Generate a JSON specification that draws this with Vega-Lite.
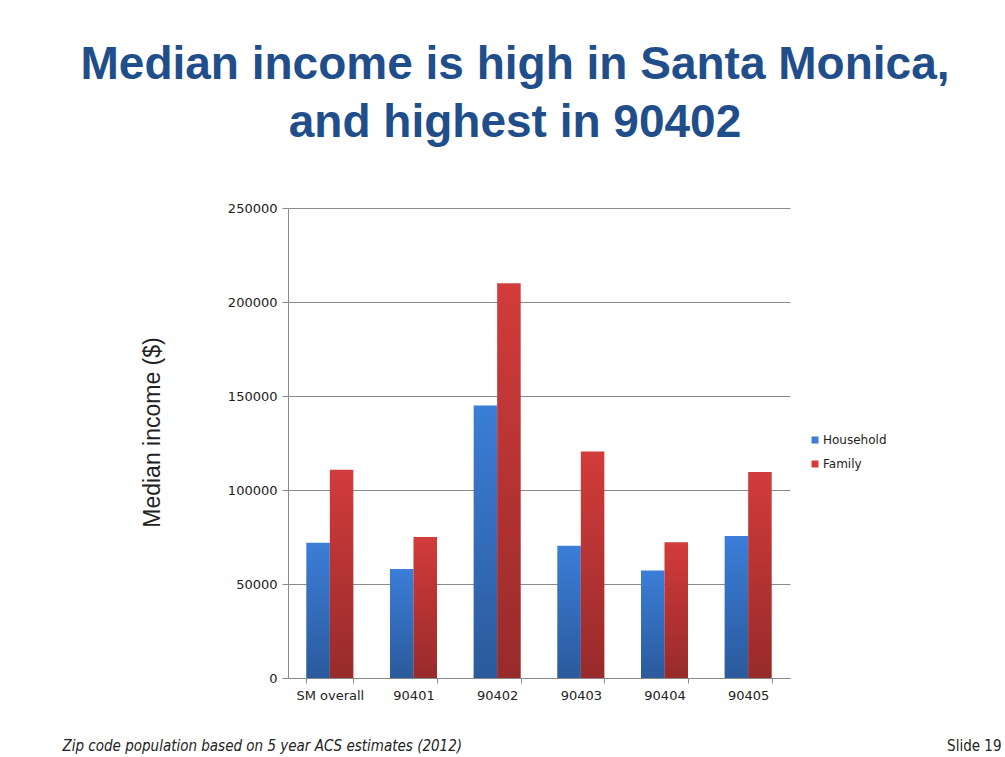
{
  "$schema": "https://vega.github.io/schema/vega-lite/v6.json",
  "width": 502,
  "height": 470,
  "autosize": {"type": "none"},
  "padding": {"left": 288, "top": 208, "right": 215, "bottom": 79},
  "background": "white",
  "title": {
    "text": ["Median income is high in Santa Monica,", "and highest in 90402"],
    "font": "Liberation Sans",
    "fontSize": 46,
    "fontWeight": "bold",
    "color": "#1f4e8a",
    "lineHeight": 58,
    "anchor": "middle",
    "frame": "group",
    "dx": -24,
    "offset": 55
  },
  "data": {
    "values": [
      {"zip": "SM overall", "series": "Household", "value": 72000},
      {"zip": "SM overall", "series": "Family", "value": 110800},
      {"zip": "90401", "series": "Household", "value": 58000},
      {"zip": "90401", "series": "Family", "value": 75000},
      {"zip": "90402", "series": "Household", "value": 145000},
      {"zip": "90402", "series": "Family", "value": 210000},
      {"zip": "90403", "series": "Household", "value": 70400},
      {"zip": "90403", "series": "Family", "value": 120500},
      {"zip": "90404", "series": "Household", "value": 57200},
      {"zip": "90404", "series": "Family", "value": 72200},
      {"zip": "90405", "series": "Household", "value": 75500},
      {"zip": "90405", "series": "Family", "value": 109600}
    ]
  },
  "encoding": {
    "x": {
      "field": "zip",
      "type": "nominal",
      "sort": null,
      "scale": {"paddingInner": 0.438, "paddingOuter": 0.219},
      "axis": {
        "title": "Zip code population  based on 5 year ACS estimates (2012)",
        "titleX": -226,
        "titleY": 72,
        "titleAlign": "left",
        "titleBaseline": "alphabetic",
        "titleFont": "DejaVu Sans Condensed, Liberation Sans",
        "titleFontStyle": "italic",
        "titleFontWeight": "normal",
        "titleFontSize": 15,
        "titleColor": "#222222",
        "labelAngle": 0,
        "labelFont": "DejaVu Sans",
        "labelFontSize": 13,
        "labelColor": "#222222",
        "labelPadding": 6,
        "tickBand": "extent",
        "tickSize": 5,
        "tickColor": "#8a8a8a",
        "domainColor": "#8a8a8a",
        "grid": false
      }
    },
    "xOffset": {
      "field": "series",
      "type": "nominal",
      "sort": ["Household", "Family"],
      "scale": {"domain": ["Household", "Family"], "paddingInner": 0, "paddingOuter": 0}
    }
  },
  "layer": [
    {
      "mark": {"type": "bar"},
      "encoding": {
        "y": {
          "field": "value",
          "type": "quantitative",
          "scale": {"domain": [0, 250000], "nice": false},
          "axis": {
            "title": "Median income ($)",
            "values": [0, 50000, 100000, 150000, 200000, 250000],
            "format": "d",
            "labelFont": "DejaVu Sans",
            "labelFontSize": 13,
            "labelColor": "#222222",
            "labelPadding": 5,
            "tickSize": 6,
            "tickColor": "#8a8a8a",
            "domainColor": "#8a8a8a",
            "grid": true,
            "gridColor": "#8a8a8a",
            "titleFont": "Liberation Sans",
            "titleFontSize": 23,
            "titleFontWeight": "normal",
            "titleColor": "#222222",
            "titleX": -136,
            "titleY": 224,
            "titleAngle": -90,
            "titleAlign": "center",
            "titleBaseline": "middle"
          }
        },
        "color": {
          "field": "series",
          "type": "nominal",
          "scale": {"domain": ["Household", "Family"], "range": ["#3b7dd8", "#d23b3b"]},
          "legend": {
            "title": null,
            "orient": "none",
            "legendX": 521,
            "legendY": 226,
            "padding": 0,
            "symbolType": "square",
            "symbolSize": 49,
            "symbolStrokeWidth": 0,
            "labelFont": "DejaVu Sans",
            "labelFontSize": 12,
            "labelColor": "#222222",
            "labelOffset": 2,
            "rowPadding": 12
          }
        }
      }
    },
    {
      "mark": {
        "type": "bar",
        "fill": {
          "gradient": "linear",
          "x1": 0, "y1": 0, "x2": 0, "y2": 1,
          "stops": [
            {"offset": 0, "color": "rgba(0,0,0,0)"},
            {"offset": 1, "color": "rgba(0,0,0,0.28)"}
          ]
        }
      },
      "encoding": {
        "y": {
          "field": "value",
          "type": "quantitative",
          "scale": {"domain": [0, 250000], "nice": false},
          "axis": {
            "orient": "right",
            "title": "Slide 19",
            "labels": false,
            "ticks": false,
            "domain": false,
            "grid": false,
            "titleAngle": 0,
            "titleX": 211,
            "titleY": 542,
            "titleAlign": "right",
            "titleBaseline": "alphabetic",
            "titleFont": "DejaVu Sans Condensed, Liberation Sans",
            "titleFontSize": 15,
            "titleFontWeight": "normal",
            "titleColor": "#222222"
          }
        }
      }
    }
  ],
  "resolve": {"axis": {"y": "independent"}},
  "config": {"view": {"stroke": null}}
}
